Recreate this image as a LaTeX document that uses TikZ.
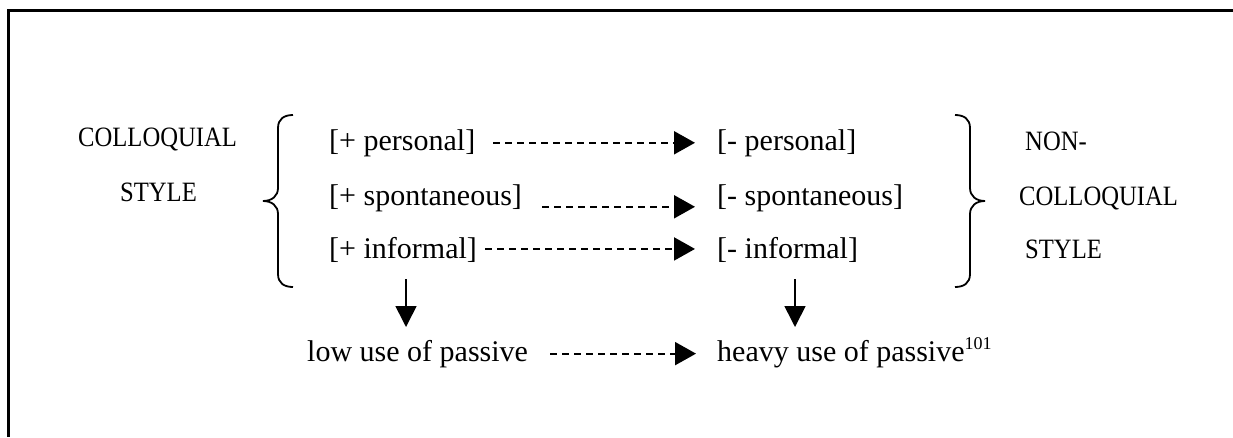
\documentclass[tikz,border=0pt]{standalone}
\usepackage{fontspec}
\setmainfont{Liberation Serif}
\newfontfamily\capsfont{Liberation Serif}[FakeStretch=0.88]
\usetikzlibrary{arrows.meta}
\begin{document}
\begin{tikzpicture}[x=1pt,y=-1pt,
  lbl/.style={inner sep=0pt, anchor=base west, font=\fontsize{30}{36}\selectfont},
  caps/.style={inner sep=0pt, anchor=base west, font=\capsfont\fontsize{28}{32}\selectfont},
  dasharrow/.style={line width=2pt, dash pattern=on 7pt off 5pt, -{Triangle[length=21pt,width=23pt]}},
  downarrow/.style={line width=1.6pt, -{Triangle[length=21pt,width=21pt]}},
  bracestyle/.style={line width=1.8pt},
  frame/.style={line width=3pt}]
\useasboundingbox (0,0) rectangle (1233,437);
% frame
\draw[frame] (1233,10) -- (8,10) -- (8,437);
% left labels
\node[caps] (cl) at (78,146) {COLLOQUIAL};
\node[caps] (sl) at (120,201) {STYLE};
% right labels
\node[caps] (nr) at (1025,150) {NON-};
\node[caps] (cr) at (1019,205) {COLLOQUIAL};
\node[caps] (sr) at (1025,258) {STYLE};
% features
\node[lbl] (pp) at (329,150) {[+ personal]};
\node[lbl] (ps) at (329,205) {[+ spontaneous]};
\node[lbl] (pi) at (329,258) {[+ informal]};
\node[lbl] (mp) at (717,150) {[- personal]};
\node[lbl] (ms) at (717,205) {[- spontaneous]};
\node[lbl] (mi) at (717,258) {[- informal]};
\node[lbl] (low) at (307,361) {low use of passive};
\node[lbl] (heavy) at (717,361) {heavy use of passive\raisebox{12pt}{\fontsize{18}{18}\selectfont 101}};
% braces
\draw[bracestyle] (293,115) .. controls (284,115) and (278,119) .. (278,128) -- (278,188)
  .. controls (278,196) and (272,201) .. (263,201)
  .. controls (272,201) and (278,206) .. (278,214) -- (278,274)
  .. controls (278,283) and (284,287) .. (293,287);
\draw[bracestyle] (955,115) .. controls (964,115) and (970,119) .. (970,128) -- (970,188)
  .. controls (970,196) and (976,201) .. (985,201)
  .. controls (976,201) and (970,206) .. (970,214) -- (970,274)
  .. controls (970,283) and (964,287) .. (955,287);
% horizontal arrows
\draw[dasharrow] ([xshift=18pt]pp.east) -- ([xshift=-22pt]mp.west);
\draw[dasharrow] ([xshift=20pt,yshift=-9pt]ps.east) -- ([xshift=-22pt,yshift=-9pt]ms.west);
\draw[dasharrow] ([xshift=8pt,yshift=0.5pt]pi.east) -- ([xshift=-22pt,yshift=0.5pt]mi.west);
\coordinate (bt) at (low.east -| heavy.west);
\draw[dasharrow] ([xshift=22pt]low.east) -- ([xshift=-21pt]bt);
% down arrows
\coordinate (d1s) at (406,279);
\coordinate (d1e) at (406,327);
\coordinate (d2s) at (795,279);
\coordinate (d2e) at (795,327);
\draw[downarrow] (d1s) -- (d1e);
\draw[downarrow] (d2s) -- (d2e);
\end{tikzpicture}
\end{document}
